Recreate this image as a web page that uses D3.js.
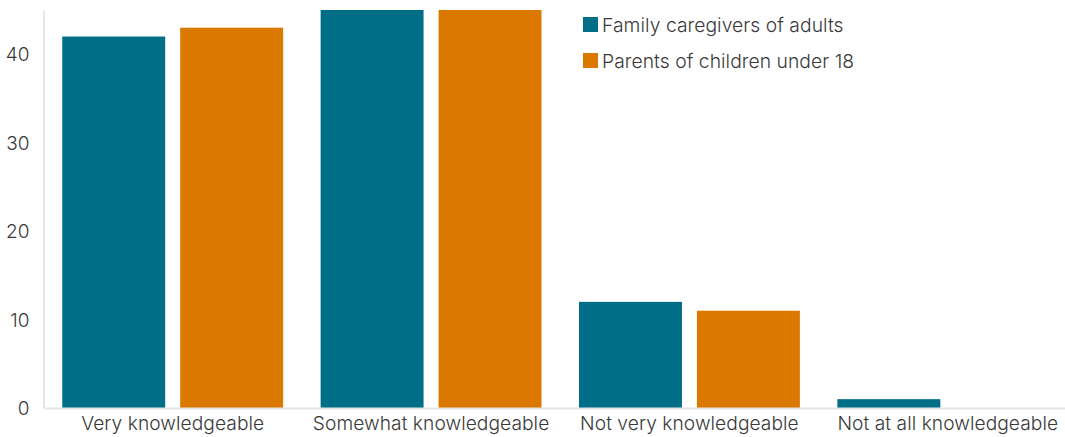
<!DOCTYPE html>
<html>
<head>
<meta charset="utf-8">
<script src="https://cdn.jsdelivr.net/npm/d3@7"></script>
<style>
  html, body { margin: 0; padding: 0; background: #fff; }
  svg text { font-family: "Inter", "Roboto", sans-serif; font-weight: 300; fill: #3a3a3a; }
</style>
</head>
<body>
<svg id="chart" width="1065" height="437"></svg>
<script>
// Knowledge level by respondent group (percent)
const categories = ["Very knowledgeable", "Somewhat knowledgeable", "Not very knowledgeable", "Not at all knowledgeable"];
const seriesNames = ["Family caregivers of adults", "Parents of children under 18"];
const caregivers = [42, 45, 12, 1];
const parents = [43, 45, 11, 0];
const yTicks = [0, 10, 20, 30, 40];
const colors = ["#006e87", "#db7800"];

const seriesValues = [caregivers, parents];
const svg = d3.select("#chart");
const margin = { top: 10, right: -12, bottom: 29, left: 43.5 };
const W = 1065, H = 437;

const x0 = d3.scaleBand().domain(categories).range([margin.left, W - margin.right]).padding(0);
const x1 = d3.scaleBand().domain(seriesNames).range([0, x0.bandwidth()])
  .paddingInner(15 / 118).paddingOuter(0.159);
const y = d3.scaleLinear().domain([0, 45]).range([H - margin.bottom, margin.top]);

// bars
const groups = svg.append("g").selectAll("g")
  .data(categories).join("g")
  .attr("transform", d => `translate(${x0(d)},0)`);

groups.selectAll("rect")
  .data((d, i) => seriesNames.map((s, j) => ({ s, v: seriesValues[j][i], j })))
  .join("rect")
  .attr("x", d => x1(d.s))
  .attr("width", x1.bandwidth())
  .attr("y", d => y(d.v))
  .attr("height", d => y(0) - y(d.v))
  .attr("fill", d => colors[d.j]);

// y axis
const yAxis = svg.append("g")
  .attr("transform", `translate(${margin.left},0)`)
  .call(d3.axisLeft(y).tickValues(yTicks).tickSize(0).tickPadding(14));
yAxis.select(".domain").attr("stroke", "#e6e6e6").attr("stroke-width", 2);
yAxis.selectAll("text").style("font-size", "19px").attr("dy", "0.35em");

// x axis
const xAxis = svg.append("g")
  .attr("transform", `translate(0,${y(0)})`)
  .call(d3.axisBottom(x0).tickSize(0).tickPadding(8));
xAxis.select(".domain").attr("stroke", "#e6e6e6").attr("stroke-width", 2);
xAxis.selectAll("text").style("font-size", "19.2px").style("letter-spacing", "0.05px");

// legend
const legend = svg.append("g").attr("transform", "translate(583,17)");
seriesNames.forEach((s, i) => {
  const g = legend.append("g").attr("transform", `translate(0,${i * 36})`);
  g.append("rect").attr("width", 15).attr("height", 15).attr("fill", colors[i]);
  g.append("text").attr("x", 19).attr("y", 8).attr("dy", "0.35em")
    .style("font-size", "19.3px").style("letter-spacing", "0.05px").text(s);
});
</script>
</body>
</html>
